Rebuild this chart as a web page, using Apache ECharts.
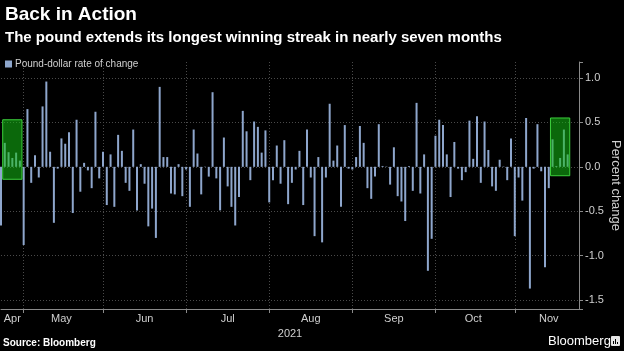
<!DOCTYPE html>
<html>
<head>
<meta charset="utf-8">
<script src="https://cdn.jsdelivr.net/npm/echarts@6/dist/echarts.min.js"></script>
<style>
  html, body { margin: 0; padding: 0; background: #000; }
  #chart { width: 624px; height: 351px; }
</style>
</head>
<body>
<div id="chart"></div>
<script>
// daily pound-dollar change, %, one value per weekday from 23 Apr 2021
const firstDay = '2021-04-23'
const dayCount = 154   // axis runs a few days past the last bar
const rateChange = [
  -0.66, 0.27, 0.165, 0.10, 0.16, 0.07,
  -0.88, 0.65, -0.18, 0.13, -0.12, 0.68, 0.96, 0.17, -0.63, -0.02, 0.32, 0.26, 0.39, -0.52, 0.53, -0.28, 0.045, -0.04, -0.24, 0.62, -0.13,
  0.17, -0.43, 0.14, -0.45, 0.36, 0.18, -0.18, -0.27, 0.42, -0.49, 0.03, -0.19, -0.67, -0.47, -0.80, 0.90, 0.11, 0.11, -0.30, -0.31, 0.03, -0.33,
  -0.03, -0.45, 0.42, 0.15, -0.31, 0.005, -0.11, 0.84, -0.13, -0.49, 0.33, -0.22, -0.45, -0.66, -0.34, 0.63, 0.40, -0.15, 0.51, 0.45, 0.16, 0.41,
  -0.40, -0.15, 0.24, -0.19, 0.30, -0.42, -0.18, -0.03, 0.18, -0.43, 0.42, -0.12, -0.78, 0.11, -0.85, -0.12, 0.71, 0.07, 0.24, -0.45, 0.47, -0.02,
  -0.03, 0.11, 0.46, 0.27, -0.24, -0.36, -0.11, 0.48, 0.01, 0.004, -0.20, 0.22, -0.33, -0.39, -0.61, 0.01, -0.27, 0.72, -0.30, 0.14, -1.17, -0.81,
  0.35, 0.53, 0.47, 0.14, -0.34, 0.28, -0.02, -0.15, -0.06, 0.52, 0.09, 0.57, -0.18, 0.51, 0.19, -0.22, -0.27, 0.08, 0.004, -0.15, 0.32,
  -0.78, -0.12, -0.38, 0.55, -1.37, -0.02, 0.48, -0.05, -1.13, -0.24, 0.31, 0.01, 0.10, 0.42, 0.14
]
const monthNames = ['Apr', 'May', 'Jun', 'Jul', 'Aug', 'Sep', 'Oct', 'Nov']
const yearLabel = '2021'
// highlighted winning streaks
const streakStart = ['2021-04-26', '2021-11-15']
const streakEnd = ['2021-04-30', '2021-11-19']
const streakTop = [0.53, 0.55]
const streakBottom = [-0.14, -0.10]
const yTicks = [-1.5, -1.0, -0.5, 0.0, 0.5, 1.0]

// weekday dates for the category axis
const dates = []
let d = new Date(firstDay + 'T00:00:00Z')
while (dates.length < dayCount) {
  const wd = d.getUTCDay()
  if (wd !== 0 && wd !== 6) dates.push(d.toISOString().slice(0, 10))
  d.setUTCDate(d.getUTCDate() + 1)
}

// first index of each month and the middle index used for its label
const monthStart = new Set()
const labelAt = {}
let runStart = 0
for (let i = 1; i <= dates.length; i++) {
  if (i === dates.length || dates[i].slice(5, 7) !== dates[i - 1].slice(5, 7)) {
    const m = parseInt(dates[runStart].slice(5, 7)) - 4
    labelAt[Math.round((runStart + i - 1) / 2)] = monthNames[m]
    if (i < dates.length) monthStart.add(i)
    runStart = i
  }
}

const boxes = streakStart.map((s, i) => [dates.indexOf(s), dates.indexOf(streakEnd[i]), streakTop[i], streakBottom[i]])

const chart = echarts.init(document.getElementById('chart'))
const grey = '#8a8a8a'
const gridColor = '#4a4a4a'

chart.setOption({
  backgroundColor: '#000',
  animation: false,
  textStyle: { fontFamily: 'Liberation Sans' },
  title: {
    text: 'Back in Action',
    subtext: 'The pound extends its longest winning streak in nearly seven months',
    left: 0,
    top: 0,
    itemGap: 6,
    textStyle: { color: '#fff', fontSize: 19, fontWeight: 'bold' },
    subtextStyle: { color: '#fff', fontSize: 15, fontWeight: 'bold' }
  },
  legend: {
    data: ['Pound-dollar rate of change'],
    left: 0,
    top: 54,
    icon: 'rect',
    itemWidth: 7,
    itemHeight: 7,
    itemGap: 4,
    textStyle: { color: '#cfcfcf', fontSize: 10, padding: [0, 0, 0, -2] }
  },
  grid: { left: 1, right: 45, top: 62, bottom: 42, outerBoundsMode: 'none' },
  xAxis: {
    type: 'category',
    data: dates,
    boundaryGap: false,
    name: yearLabel,
    nameLocation: 'middle',
    nameGap: 15,
    nameTextStyle: { color: '#cfcfcf', fontSize: 11 },
    axisLine: { onZero: false, lineStyle: { color: grey } },
    axisTick: { interval: (i) => monthStart.has(i), length: 4, lineStyle: { color: grey } },
    axisLabel: {
      interval: (i) => labelAt[i] !== undefined,
      formatter: (v, i) => labelAt[i] || '',
      color: '#cfcfcf',
      fontSize: 11,
      margin: 4
    },
    splitLine: { show: true, interval: (i) => monthStart.has(i), lineStyle: { color: gridColor, type: [1, 2] } }
  },
  yAxis: {
    type: 'value',
    position: 'right',
    min: -1.6,
    max: 1.18,
    splitNumber: 5,
    name: 'Percent change',
    nameLocation: 'middle',
    nameRotate: -90,
    nameGap: 30,
    nameMoveOverlap: false,
    nameTextStyle: { color: '#cfcfcf', fontSize: 13 },
    axisLine: { show: true, lineStyle: { color: grey } },
    axisTick: { show: true, length: 4, lineStyle: { color: grey } },
    axisLabel: {
      color: '#cfcfcf',
      fontSize: 11,
      margin: 6,
      formatter: (v) => yTicks.some(t => Math.abs(t - v) < 1e-6) ? v.toFixed(1) : ''
    },
    splitLine: { show: true, showMinLine: false, showMaxLine: false, lineStyle: { color: gridColor, type: [1, 2] } }
  },
  series: [
    {
      name: 'Pound-dollar rate of change',
      type: 'bar',
      data: rateChange,
      barWidth: 2,
      itemStyle: { color: '#8ea6cc' },
      z: 2
    },
    {
      name: 'streak',
      type: 'custom',
      data: boxes,
      encode: { x: [0, 1], y: [2, 3] },
      z: 3,
      silent: true,
      renderItem: (params, api) => {
        const a = api.coord([api.value(0), api.value(2)])
        const b = api.coord([api.value(1), api.value(3)])
        const half = api.size([1, 0])[0] * 0.55
        return {
          type: 'rect',
          shape: { x: a[0] - half, y: a[1], width: b[0] - a[0] + 2 * half, height: b[1] - a[1] },
          style: { fill: 'rgba(20,190,20,0.55)', stroke: '#3ccf3c', lineWidth: 1 }
        }
      }
    }
  ],
  graphic: [
    {
      type: 'text', left: 3, top: 338,
      style: { text: 'Source: Bloomberg', fill: '#fff', font: 'bold 10px "Liberation Sans"' }
    },
    {
      type: 'text', left: 548, top: 335,
      style: { text: 'Bloomberg', fill: '#fff', font: '13px "Liberation Sans"' }
    },
    {
      type: 'group', left: 611, top: 336,
      children: [
        { type: 'rect', shape: { x: 0, y: 0, width: 9, height: 10, r: 1 }, style: { fill: '#e6e6e6' } },
        { type: 'rect', shape: { x: 2, y: 5, width: 1, height: 3 }, style: { fill: '#000' } },
        { type: 'rect', shape: { x: 4, y: 3, width: 1, height: 5 }, style: { fill: '#000' } },
        { type: 'rect', shape: { x: 6, y: 6, width: 1, height: 2 }, style: { fill: '#000' } }
      ]
    }
  ]
})
</script>
</body>
</html>
